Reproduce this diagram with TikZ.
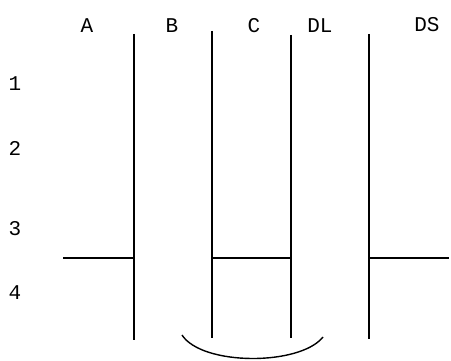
\documentclass[tikz,border=0pt]{standalone}
\usepackage{fontspec}
\setmonofont{Liberation Mono}
\begin{document}
\begin{tikzpicture}[x=1pt,y=-1pt,
  lbl/.style={font=\ttfamily\fontsize{21}{21}\selectfont, inner sep=0pt, anchor=center},
  wall/.style={line width=1.8pt},
  bar/.style={line width=1.3pt},
  loop/.style={line width=1.4pt}]
\useasboundingbox (0,0) rectangle (451,361);
% column labels
\node[lbl] (A)  at (87,26)  {A};
\node[lbl] (B)  at (172,26) {B};
\node[lbl] (C)  at (254,26) {C};
\node[lbl] (DL) at (320,26) {DL};
\node[lbl] (DS) at (427,25) {DS};
% row labels
\node[lbl] (r1) at (15,84)  {1};
\node[lbl] (r2) at (15,148) {2};
\node[lbl] (r3) at (15,229) {3};
\node[lbl] (r4) at (15,293) {4};
% vertical walls
\coordinate (w1t) at (134,34);  \coordinate (w1b) at (134,340);
\coordinate (w2t) at (212,31);  \coordinate (w2b) at (212,338);
\coordinate (w3t) at (291,35);  \coordinate (w3b) at (291,338);
\coordinate (w4t) at (369,34);  \coordinate (w4b) at (369,339);
\draw[wall] (w1t) -- (w1b);
\draw[wall] (w2t) -- (w2b);
\draw[wall] (w3t) -- (w3b);
\draw[wall] (w4t) -- (w4b);
% horizontal bars at level 3
\coordinate (h1a) at (63,258);  \coordinate (h1b) at (133,258);
\coordinate (h2a) at (213,258); \coordinate (h2b) at (290,258);
\coordinate (h3a) at (370,258); \coordinate (h3b) at (449,258);
\draw[bar] (h1a) -- (h1b);
\draw[bar] (h2a) -- (h2b);
\draw[bar] (h3a) -- (h3b);
% bottom arc
\coordinate (arcL) at (182,335);
\coordinate (arcR) at (323,337);
\draw[loop] (arcL) .. controls (202,366) and (300,366) .. (arcR);
\end{tikzpicture}
\end{document}
